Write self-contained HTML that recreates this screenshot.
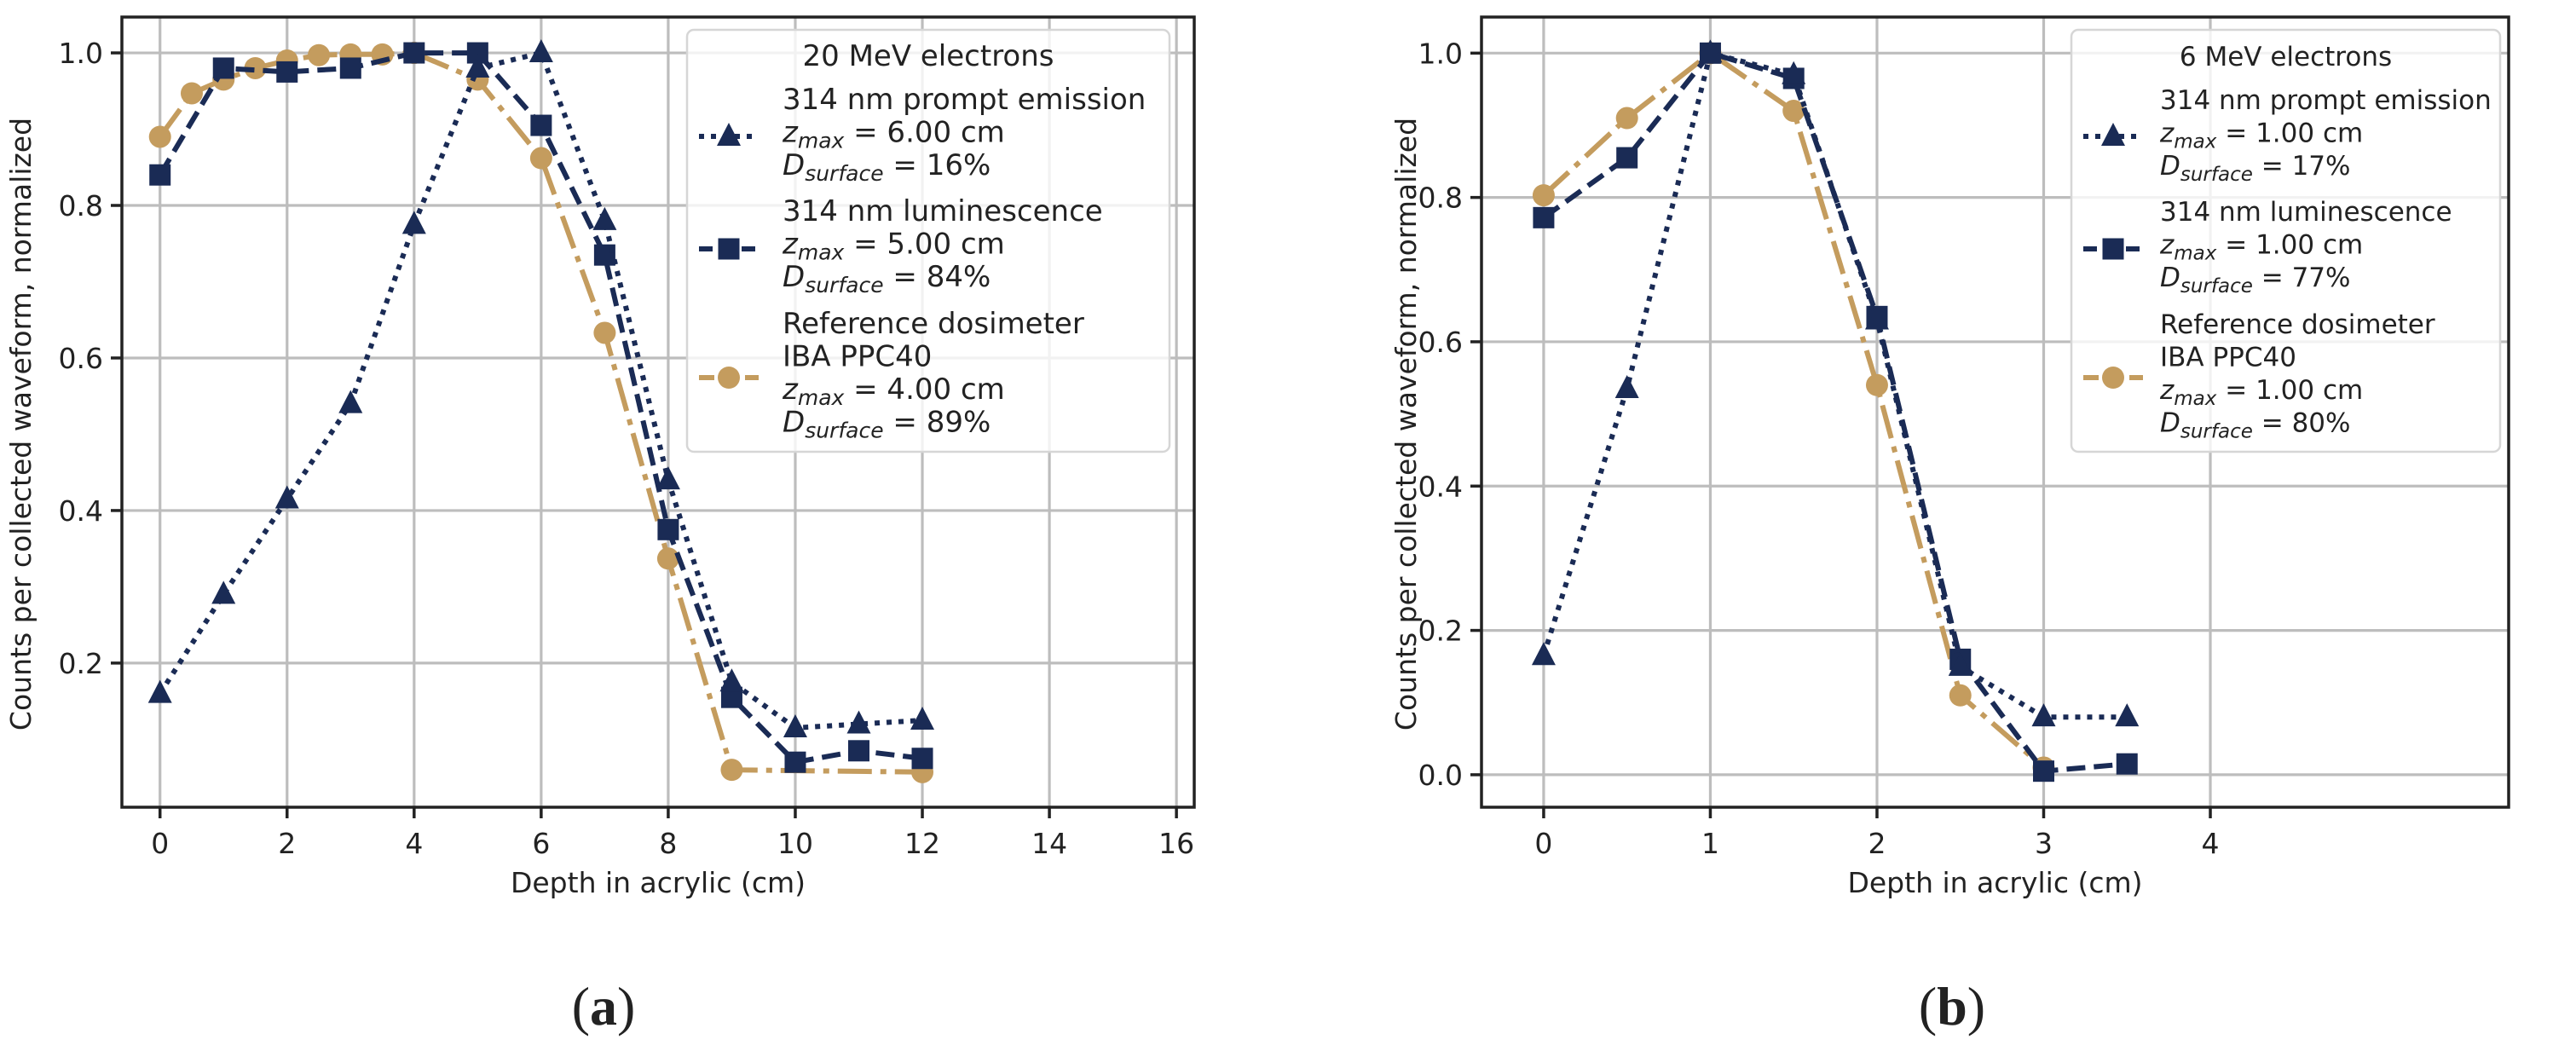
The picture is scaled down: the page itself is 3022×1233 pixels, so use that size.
<!DOCTYPE html>
<html><head><meta charset="utf-8"><style>
html,body{margin:0;padding:0;background:#fff;}
svg{display:block;font-family:"DejaVu Sans","Liberation Sans",sans-serif;}
</style></head><body>
<svg id="fig" width="3022" height="1233" viewBox="0 0 3022 1233" xmlns="http://www.w3.org/2000/svg"></svg>
<script>
// ---- Panel (a) data: 20 MeV electrons ----
const aPromptX = [0,1,2,3,4,5,6,7,8,9,10,11,12];
const aPromptY = [0.16,0.29,0.415,0.54,0.775,0.98,1.0,0.78,0.44,0.175,0.115,0.12,0.125];
const aLumX = [0,1,2,3,4,5,6,7,8,9,10,11,12];
const aLumY = [0.84,0.98,0.975,0.98,1.0,1.0,0.905,0.735,0.375,0.155,0.07,0.085,0.075];
const aRefX = [0,0.5,1,1.5,2,2.5,3,3.5,4,5,6,7,8,9,12];
const aRefY = [0.89,0.947,0.965,0.98,0.99,0.997,0.998,0.998,1.0,0.965,0.862,0.633,0.337,0.06,0.057];
const aXTicks = [0,2,4,6,8,10,12,14,16];
const aYTicks = [0.2,0.4,0.6,0.8,1.0];
const aTickLabelsY = ["0.2","0.4","0.6","0.8","1.0"];
const aLegendVals = ["6.00 cm","16%","5.00 cm","84%","4.00 cm","89%"];

// ---- Panel (b) data: 6 MeV electrons ----
const bPromptX = [0,0.5,1,1.5,2,2.5,3,3.5];
const bPromptY = [0.165,0.535,1.0,0.97,0.63,0.15,0.08,0.08];
const bLumX = [0,0.5,1,1.5,2,2.5,3,3.5];
const bLumY = [0.772,0.855,1.0,0.965,0.635,0.16,0.005,0.015];
const bRefX = [0,0.5,1,1.5,2,2.5,3];
const bRefY = [0.803,0.91,1.0,0.92,0.54,0.11,0.01];
const bXTicks = [0,1,2,3,4];
const bYTicks = [0.0,0.2,0.4,0.6,0.8,1.0];
const bTickLabelsY = ["0.0","0.2","0.4","0.6","0.8","1.0"];
const bLegendVals = ["1.00 cm","17%","1.00 cm","77%","1.00 cm","80%"];

const NS = "http://www.w3.org/2000/svg";
const svg = document.getElementById('fig');
const NAVY = "#1a2b55", GOLD = "#c49c5e", INK = "#222";
const FS = 33;
function mk(tag, attrs, parent){
  const e = document.createElementNS(NS, tag);
  for (const k in attrs) e.setAttribute(k, attrs[k]);
  (parent||svg).appendChild(e);
  return e;
}

function panel(cfg){
  const {L,R,T,B,xmin,xmax,ymin,ymax,id} = cfg;
  const sx = v => L + (v - xmin) / (xmax - xmin) * (R - L);
  const sy = v => B - (v - ymin) / (ymax - ymin) * (B - T);
  const g = mk('g', {});
  
  
  cfg.xticks.forEach(t => {
    const l = mk('line', {x1:sx(t), x2:sx(t), y1:T, y2:B, stroke:"#bdbdbd", "stroke-width":3.2}, g);
    
    
  });
  cfg.yticks.forEach(t => {
    const l = mk('line', {x1:L, x2:R, y1:sy(t), y2:sy(t), stroke:"#bdbdbd", "stroke-width":3.2}, g);
    
    
  });
  const series = [
    {x:cfg.refX, y:cfg.refY, color:GOLD, dash:"40,10,7,10", marker:"circle", name:"reference-dosimeter"},
    {x:cfg.lumX, y:cfg.lumY, color:NAVY, dash:"22,10", marker:"square", name:"luminescence"},
    {x:cfg.promptX, y:cfg.promptY, color:NAVY, dash:"6,8", marker:"triangle", name:"prompt-emission"}
  ];
  series.forEach(s => {
    const sg = mk('g', {}, g);
    
    
    const pts = s.x.map((xv,i) => sx(xv).toFixed(1) + "," + sy(s.y[i]).toFixed(1)).join(" ");
    const pl = mk('polyline', {points:pts, fill:"none", stroke:s.color, "stroke-width":6, "stroke-dasharray":s.dash}, sg);
    
    
    s.x.forEach((xv,i) => {
      const m = marker(s.marker, sx(xv), sy(s.y[i]), s.color, sg);
      
      
    });
  });
  const sp = mk('rect', {x:L, y:T, width:R-L, height:B-T, fill:"none", stroke:INK, "stroke-width":3.5}, g);
  
  
  cfg.xticks.forEach(t => {
    mk('line', {x1:sx(t), x2:sx(t), y1:B, y2:B+13, stroke:INK, "stroke-width":3.5}, g);
    const tx = mk('text', {x:sx(t), y:B+54, "font-size":FS, fill:INK, "text-anchor":"middle"}, g);
    tx.textContent = String(t);
    
    
  });
  cfg.yticks.forEach((t,i) => {
    mk('line', {x1:L-13, x2:L, y1:sy(t), y2:sy(t), stroke:INK, "stroke-width":3.5}, g);
    const tx = mk('text', {x:L-22, y:sy(t)+12, "font-size":FS, fill:INK, "text-anchor":"end"}, g);
    tx.textContent = cfg.ylabels[i];
    
    
  });
  const xt = mk('text', {x:(L+R)/2, y:B+100, "font-size":FS, fill:INK, "text-anchor":"middle"}, g);
  xt.textContent = "Depth in acrylic (cm)";
  
  
  const yt = mk('text', {x:0, y:0, "font-size":FS, fill:INK, "text-anchor":"middle", transform:`translate(${cfg.ylabX},${(T+B)/2 + 14}) rotate(-90)`}, g);
  yt.textContent = "Counts per collected waveform, normalized";
  
  
  legend(g, cfg);
  const cap = mk('text', {x:cfg.capX, y:1202, "font-size":64, fill:INK, "text-anchor":"middle", "font-family":"'Liberation Serif', serif"}, g);
  const p1 = mk('tspan', {}, cap); p1.textContent = "(";
  const p2 = mk('tspan', {"font-weight":"bold"}, cap); p2.textContent = cfg.cap;
  const p3 = mk('tspan', {}, cap); p3.textContent = ")";
  
  
}

function marker(type, x, y, color, parent){
  if (type === "circle") return mk('circle', {cx:x, cy:y, r:13, fill:color}, parent);
  if (type === "square") return mk('rect', {x:x-12.5, y:y-12.5, width:25, height:25, fill:color}, parent);
  return mk('polygon', {points:`${x},${y-16} ${x-14},${y+11} ${x+14},${y+11}`, fill:color}, parent);
}

function legend(g, cfg){
  const lx = cfg.legX, ly = 35, lw = cfg.legW, lh = 495, LFS = cfg.legFS, SFS = Math.round(cfg.legFS*0.74);
  const lg = mk('g', {}, g);
  
  
  mk('rect', {x:lx, y:ly, width:lw, height:lh, rx:8, fill:"rgba(255,255,255,0.8)", stroke:"#d6d6d6", "stroke-width":2.5}, lg);
  const title = mk('text', {x:lx+lw/2, y:77, "font-size":LFS, fill:INK, "text-anchor":"middle"}, lg);
  title.textContent = cfg.legTitle;
  
  
  const hx1 = lx + 14, hx2 = lx + 84, hc = lx + 49;
  const entries = [
    {lines:["314 nm prompt emission"], base:128, hy:160, color:NAVY, m:"triangle", v:0, name:"legend-entry-prompt"},
    {lines:["314 nm luminescence"], base:259, hy:292, color:NAVY, m:"square", v:2, name:"legend-entry-luminescence"},
    {lines:["Reference dosimeter","IBA PPC40"], base:391, hy:443, color:GOLD, m:"circle", v:4, name:"legend-entry-reference"}
  ];
  entries.forEach(e => {
    const eg = mk('g', {}, lg);
    
    
    mk('line', {x1:hx1, x2:hx2, y1:e.hy, y2:e.hy, stroke:e.color, "stroke-width":6, "stroke-dasharray": e.m==="triangle" ? "6,8" : (e.m==="square" ? "16,9" : "18,9")}, eg);
    marker(e.m, hc, e.hy, e.color, eg);
    let y = e.base;
    const x0 = lx + cfg.legTX;
    e.lines.forEach(t => {
      const tt = mk('text', {x:x0, y:y, "font-size":LFS, fill:INK}, eg);
      tt.textContent = t; y += 38.5;
    });
    const z = mk('text', {x:x0, y:y, "font-size":LFS, fill:INK}, eg);
    const z1 = mk('tspan', {"font-style":"italic"}, z); z1.textContent = "z";
    const z2 = mk('tspan', {"font-style":"italic", "font-size":SFS, dy:7}, z); z2.textContent = "max";
    const z3 = mk('tspan', {dy:-7}, z); z3.textContent = " = " + cfg.legVals[e.v];
    y += 38.5;
    const d = mk('text', {x:x0, y:y, "font-size":LFS, fill:INK}, eg);
    const d1 = mk('tspan', {"font-style":"italic"}, d); d1.textContent = "D";
    const d2 = mk('tspan', {"font-style":"italic", "font-size":SFS, dy:7}, d); d2.textContent = "surface";
    const d3 = mk('tspan', {dy:-7}, d); d3.textContent = " = " + cfg.legVals[e.v+1];
  });
}

panel({id:"a", L:143, R:1401, T:20, B:947, xmin:-0.6, xmax:16.28, ymin:0.011, ymax:1.047,
  xticks:aXTicks, yticks:aYTicks, ylabels:aTickLabelsY,
  promptX:aPromptX, promptY:aPromptY, lumX:aLumX, lumY:aLumY, refX:aRefX, refY:aRefY,
  legX:806, legW:566, legFS:34, legTX:112, legTitle:"20 MeV electrons", legVals:aLegendVals, ylabX:36, capX:708, cap:"a"});
panel({id:"b", L:1738, R:2943, T:20, B:947, xmin:-0.373, xmax:5.79, ymin:-0.045, ymax:1.05,
  xticks:bXTicks, yticks:bYTicks, ylabels:bTickLabelsY,
  promptX:bPromptX, promptY:bPromptY, lumX:bLumX, lumY:bLumY, refX:bRefX, refY:bRefY,
  legX:2430, legW:503, legFS:31, legTX:104, legTitle:"6 MeV electrons", legVals:bLegendVals, ylabX:1661, capX:2290, cap:"b"});
</script>
</body></html>
